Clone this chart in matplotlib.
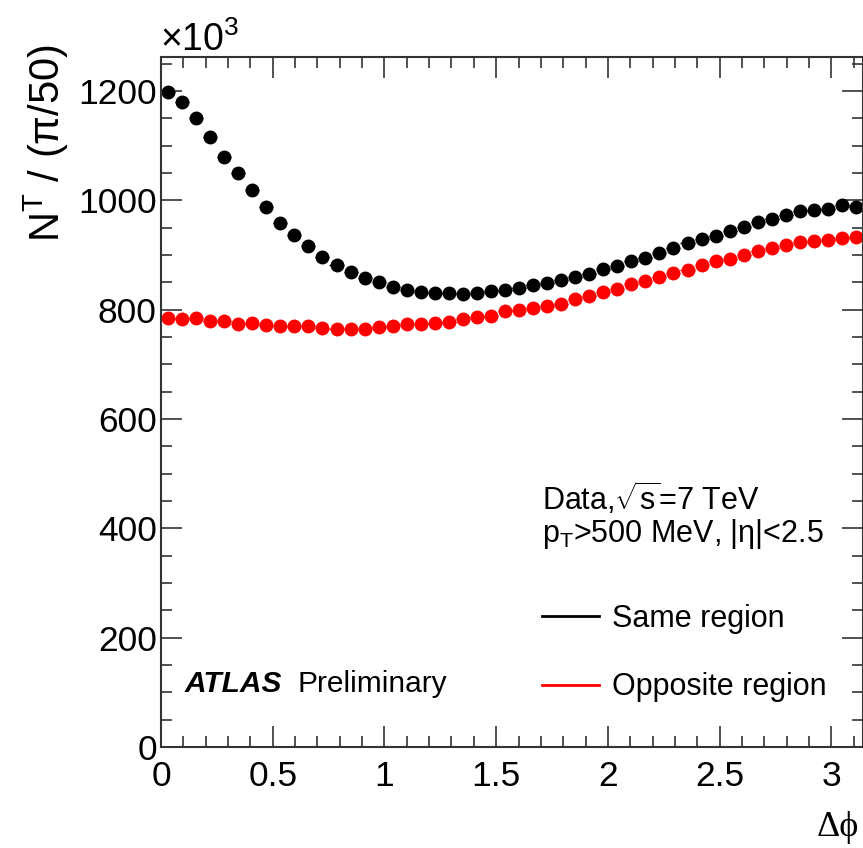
import numpy as np
import matplotlib
matplotlib.use('Agg')
import matplotlib.pyplot as plt
from matplotlib.lines import Line2D
from matplotlib.ticker import MultipleLocator

plt.rcParams['font.family'] = ['Liberation Sans', 'DejaVu Sans']
plt.rcParams['mathtext.fontset'] = 'custom'
plt.rcParams['mathtext.rm'] = 'Liberation Sans'
plt.rcParams['mathtext.it'] = 'Liberation Sans:italic'
plt.rcParams['mathtext.bf'] = 'Liberation Sans:bold'

# N^T per pi/50 bin, in units of 10^3
n_bins = 50
same_region = [1198, 1179, 1150, 1116, 1080, 1049, 1019, 987, 959, 936,
               917, 897, 881, 868, 858, 850, 842, 836, 833, 830,
               830, 829, 831, 834, 836, 839, 845, 848, 855, 860,
               865, 874, 879, 889, 894, 904, 912, 921, 929, 934,
               943, 951, 960, 965, 973, 980, 982, 984, 992, 988]
opposite_region = [785, 782, 784, 779, 779, 773, 775, 772, 770, 770,
                   770, 767, 765, 764, 765, 768, 770, 773, 774, 776,
                   778, 782, 786, 789, 797, 799, 803, 807, 811, 819,
                   825, 832, 837, 847, 853, 860, 867, 872, 881, 889,
                   892, 900, 907, 912, 918, 923, 925, 927, 931, 933]

edges = np.linspace(0, np.pi, n_bins + 1)
centers = 0.5 * (edges[:-1] + edges[1:])
half_w = 0.5 * (edges[1] - edges[0])

W, H = 863, 848
fig = plt.figure(figsize=(W / 100, H / 100), dpi=100)
ax = fig.add_axes([161 / W, 1 - 747 / H, 702 / W, 690 / H])

ax.errorbar(centers, opposite_region, xerr=half_w, fmt='o', color='red',
            ms=9, elinewidth=1, capsize=0)
ax.errorbar(centers, same_region, xerr=half_w, fmt='o', color='black',
            ms=9, elinewidth=1, capsize=0)

ax.set_xlim(0, np.pi)
ax.set_ylim(0, 1262)

ax.xaxis.set_major_locator(MultipleLocator(0.5))
ax.xaxis.set_minor_locator(MultipleLocator(0.1))
ax.yaxis.set_major_locator(MultipleLocator(200))
ax.yaxis.set_minor_locator(MultipleLocator(50))
ax.set_xticks([0, 0.5, 1, 1.5, 2, 2.5, 3])
ax.set_xticklabels(['0', '0.5', '1', '1.5', '2', '2.5', '3'])
ax.tick_params(which='both', direction='in', top=True, right=True,
               color='#333333', width=1.2, labelsize=25.5)
ax.tick_params(which='major', length=15)
ax.tick_params(which='minor', length=7.6)
ax.tick_params(axis='x', pad=9)
ax.tick_params(axis='y', pad=3)
for s in ax.spines.values():
    s.set_linewidth(1.5)
    s.set_color('#333333')

# axis titles
fig.text(22 / W, 1 - 44 / H, r'N$^{\mathrm{T}}$ / (π/50)', rotation=90,
         ha='left', va='top', fontsize=30)
fig.text((W - 4) / W, 4 / H, 'Δϕ', ha='right', va='bottom',
         fontsize=26, family=['Liberation Serif', 'DejaVu Serif'])
fig.text(160 / W, 1 - 51 / H, r'$\times$10$^{3}$', ha='left', va='baseline',
         fontsize=27)

# labels
fig.text(185 / W, 1 - 692 / H, 'ATLAS', fontsize=21.5, weight='bold',
         style='italic', va='baseline')
fig.text(297 / W, 1 - 692 / H, 'Preliminary', fontsize=21.5, va='baseline')
fig.text(542 / W, 1 - 510 / H, r'Data,$\sqrt{\mathrm{s}}$=7 TeV',
         fontsize=22, va='baseline')
fig.text(542 / W, 1 - 542 / H, r'p$_{\mathrm{T}}$>500 MeV, |η|<2.5',
         fontsize=22, va='baseline')

handles = [Line2D([], [], color='black', lw=2),
           Line2D([], [], color='red', lw=2)]
fig.legend(handles, ['Same region', 'Opposite region'], frameon=False,
           loc='upper left', bbox_to_anchor=(542 / W, 1 - 604 / H),
           fontsize=22, handlelength=1.85, handletextpad=0.45,
           labelspacing=1.25, borderpad=0, borderaxespad=0)

fig.savefig('out.png', dpi=100)
